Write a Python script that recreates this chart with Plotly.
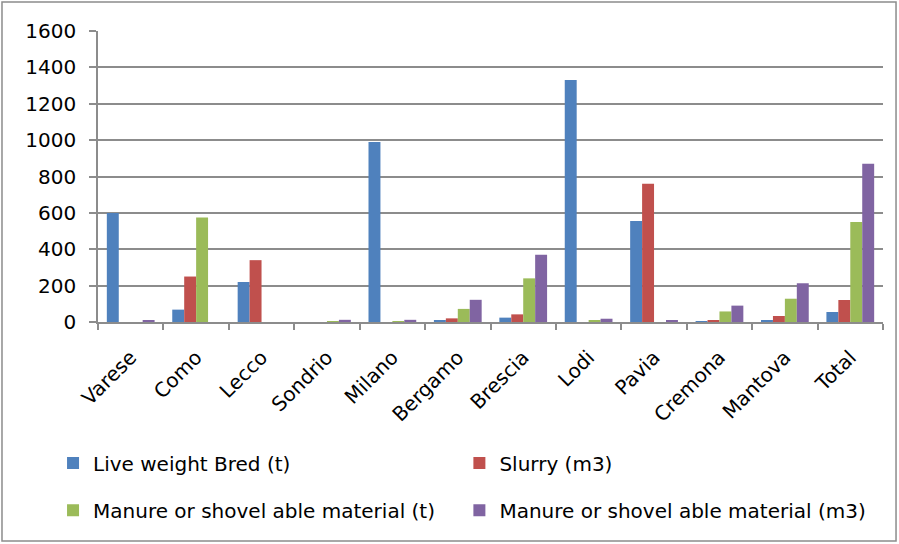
import plotly.graph_objects as go

provinces = ["Varese", "Como", "Lecco", "Sondrio", "Milano", "Bergamo",
             "Brescia", "Lodi", "Pavia", "Cremona", "Mantova", "Total"]

live_weight_t = [600, 68, 220, 0, 990, 6, 24, 1330, 555, 2, 10, 55]
slurry_m3 = [0, 250, 340, 0, 0, 20, 42, 0, 760, 6, 33, 121]
manure_t = [0, 575, 0, 3, 2, 72, 240, 6, 0, 58, 128, 550]
manure_m3 = [7, 0, 0, 12, 12, 122, 370, 18, 8, 90, 213, 870]

# name, values, colour, legend id, legend anchor (container fractions)
series = [
    ("Live weight Bred (t)", live_weight_t, "#4F81BD", "legend", 0.059, 0.149),
    ("Slurry (m3)", slurry_m3, "#C0504D", "legend2", 0.511, 0.149),
    ("Manure or shovel able material (t)", manure_t, "#9BBB59", "legend3", 0.059, 0.062),
    ("Manure or shovel able material (m3)", manure_m3, "#8064A2", "legend4", 0.511, 0.062),
]

FONT = "'DejaVu Sans', sans-serif"
GRID = "#8c8c8c"
FS = 20

fig = go.Figure()
legends = {}
for name, vals, color, leg, lx, ly in series:
    fig.add_trace(go.Bar(x=provinces, y=vals, name=name, marker_color=color,
                         marker_line_width=0, legend=leg, showlegend=True))
    legends[leg] = dict(
        x=lx, y=ly, xref="container", yref="container",
        xanchor="left", yanchor="middle", orientation="h",
        font=dict(family=FONT, size=FS, color="#000000"),
        bgcolor="rgba(0,0,0,0)", itemwidth=30,
    )

fig.update_layout(
    width=899, height=544,
    margin=dict(l=98, r=16, t=31, b=222),
    paper_bgcolor="white", plot_bgcolor="white",
    showlegend=True,
    barmode="group", bargap=0.27, bargroupgap=0,
    font=dict(family=FONT, size=FS, color="#000000"),
    xaxis=dict(
        type="category", tickangle=-45, showgrid=False, automargin=False,
        showline=True, linecolor=GRID, linewidth=1.5,
        ticks="outside", tickson="boundaries", ticklen=6,
        tickcolor=GRID, tickwidth=1.5, ticklabelstandoff=14,
        tickfont=dict(family=FONT, size=FS),
    ),
    yaxis=dict(
        range=[0, 1600], dtick=200, showgrid=True, automargin=False,
        gridcolor=GRID, gridwidth=1.5,
        showline=True, linecolor=GRID, linewidth=1.5,
        ticks="outside", ticklen=7, tickcolor=GRID, tickwidth=1.5,
        ticklabelstandoff=9,
        tickfont=dict(family=FONT, size=FS), zeroline=False,
    ),
    shapes=[dict(type="rect", xref="paper", yref="paper",
                 x0=-0.1223, x1=1.0166, y0=-0.7526, y1=1.0997,
                 line=dict(color="#8c8c8c", width=1.5), layer="below")],
    **legends,
)

fig.write_html("out.html")
